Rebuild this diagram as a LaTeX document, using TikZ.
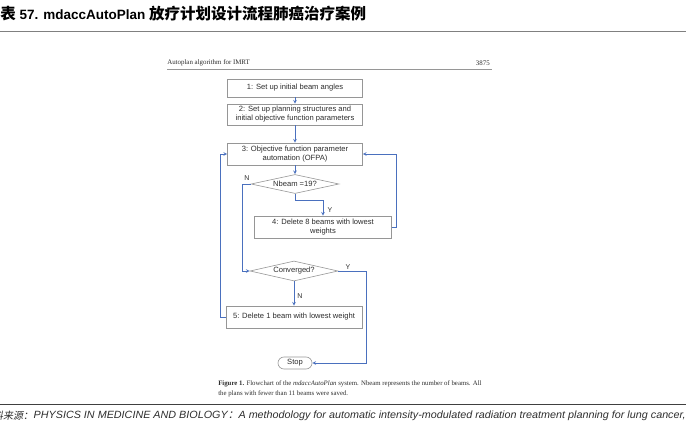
\documentclass[tikz,border=0pt]{standalone}
\usepackage{fontspec}
\setmainfont{Liberation Serif}
\setsansfont{Liberation Sans}
\newfontfamily\cjk{Noto Sans CJK SC}
\newfontfamily\cjkslant[FakeSlant=0.2]{Noto Sans CJK SC}
\usetikzlibrary{shapes.geometric,positioning}

\definecolor{flowblue}{RGB}{74,112,190}
\definecolor{boxgray}{RGB}{150,150,150}
\definecolor{txtgray}{RGB}{45,45,45}

\begin{document}
\begin{tikzpicture}[x=1pt,y=-1pt,->,>=stealth,semithick,
    flow/.style={draw=flowblue,line width=0.7pt},
    stepbox/.style={rectangle,draw=boxgray,line width=0.6pt,fill=white,
      minimum width=135pt,align=center,inner sep=1pt,
      font=\sffamily\fontsize{7.6}{9}\selectfont,text=txtgray},
    test/.style={diamond,aspect=4.9,draw=boxgray,line width=0.6pt,inner sep=0pt,
      minimum width=88pt,minimum height=19pt,
      font=\sffamily\fontsize{7.6}{9}\selectfont,text=txtgray},
    term/.style={rectangle,rounded corners=6pt,draw=boxgray,line width=0.6pt,
      minimum width=34pt,minimum height=12pt,inner sep=0pt,
      font=\sffamily\fontsize{7.6}{9}\selectfont,text=txtgray},
    yn/.style={font=\sffamily\fontsize{7}{8}\selectfont,text=txtgray,inner sep=1pt}]

  \useasboundingbox (0,0) rectangle (686,428);

  % page title and rules
  \node[anchor=west,inner sep=0pt,font=\sffamily\bfseries\fontsize{13.5}{15}\selectfont] (title) at (0,14)
    {{\cjk\fontsize{15.5}{16}\selectfont 表} 57. mdaccAutoPlan {\cjk\fontsize{15.5}{16}\selectfont 放疗计划设计流程肺癌治疗案例}};
  \draw[-,draw=gray,line width=0.9pt] (0,31) -- (686,31);
  \draw[-,draw=black!75,line width=0.9pt] (0,404) -- (686,404);

  % scanned page header
  \node[anchor=west,inner sep=0pt,font=\fontsize{6.9}{8}\selectfont,text=txtgray] (head) at (167,63)
    {Autoplan algorithm for IMRT};
  \node[anchor=east,inner sep=0pt,font=\fontsize{6.9}{8}\selectfont,text=txtgray] (page) at (490,63) {3875};
  \draw[-,draw=boxgray,line width=0.5pt] (167,69) -- (492,69);

  % flowchart
  \node[stepbox,minimum height=18pt] (s1) at (295,88) {1: Set up initial beam angles};
  \node[stepbox,minimum height=21pt] (s2) at (295,114.5) {2: Set up planning structures and\\initial objective function parameters};
  \node[stepbox,minimum height=22pt] (s3) at (295,154) {3: Objective function parameter\\automation (OFPA)};
  \node[test] (t1) at (295,184) {Nbeam =19?};
  \node[stepbox,minimum width=137pt,minimum height=22pt] (s4) at (323,227) {4: Delete 8 beams with lowest\\weights};
  \node[test,minimum height=20pt] (t2) at (294,271) {Converged?};
  \node[stepbox,minimum width=136pt,minimum height=22pt] (s5) at (294,317) {5: Delete 1 beam with lowest weight};
  \node[term] (stop) at (295,363) {Stop};

  \coordinate (yturn) at (366,271);

  \path (s1) edge[flow] (s2)
        (s2) edge[flow] (s3)
        (s3) edge[flow] (t1);
  \draw[flow] (t1.south) -- ++(0,7) -| (s4.north);
  \draw[flow] (s4.east) -- ++(5,0) |- (s3.east);
  \draw[flow] (t1.west) -- ++(-8,0) |- (t2.west);
  \draw[flow] (t2) -- (s5);
  \draw[flow] (t2.east) -- (yturn) |- (stop.east);
  \draw[flow] (s5.west) -- ++(-5,0) |- (s3.west);

  \node[yn] (n1) at (247,178) {N};
  \node[yn] (y1) at (330,210) {Y};
  \node[yn] (y2) at (348,267) {Y};
  \node[yn] (n2) at (300,296) {N};

  % figure caption
  \node[anchor=north west,inner sep=0pt,align=left,text=txtgray,
    font=\fontsize{6.8}{10}\selectfont] (cap) at (218,380)
    {\textbf{Figure 1.} Flowchart of the \textit{mdaccAutoPlan} system. Nbeam represents the number of beams. All\\
     the plans with fewer than 11 beams were saved.};

  % source line
  \node[anchor=east,inner sep=0pt,text=txtgray,font=\fontsize{10}{11}\selectfont] (srclbl) at (33.5,416)
    {\cjkslant 资料来源：};
  \node[anchor=east,inner sep=0pt,text=txtgray] (src) at (686,416)
    {\resizebox{652pt}{7.6pt}{\sffamily\itshape PHYSICS IN MEDICINE AND BIOLOGY{\cjkslant ：}A methodology for automatic intensity-modulated radiation treatment planning for lung cancer,}};
\end{tikzpicture}
\end{document}
